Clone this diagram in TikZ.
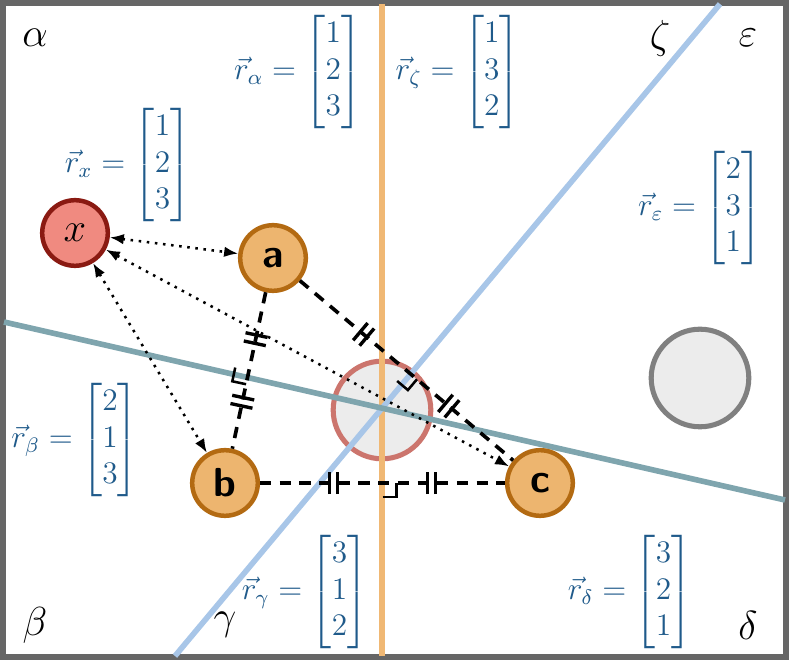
\documentclass[tikz,border=0pt]{standalone}
\usepackage{amsmath}
\usetikzlibrary{arrows.meta,decorations.markings}
\definecolor{vecblue}{HTML}{1F5A8A}
\definecolor{nodeorange}{HTML}{EDB56F}
\definecolor{nodeedge}{HTML}{B36A12}
\definecolor{xred}{HTML}{F08A80}
\definecolor{xedge}{HTML}{8A1A12}
\definecolor{lineorange}{HTML}{F0B874}
\definecolor{lineblue}{HTML}{A8C6E8}
\definecolor{lineteal}{HTML}{7FA5AE}
\tikzset{
  pt/.style={circle,draw=nodeedge,fill=nodeorange,line width=1.6pt,minimum size=0.82cm,inner sep=0pt,font=\Large\sffamily\bfseries},
  vec/.style={text=vecblue,font=\large,scale=0.93},
  corner/.style={font=\Large},
  edge/.style={dashed,line width=1.3pt,dash pattern=on 4pt off 3pt,postaction={decorate},
    decoration={markings,
      mark=at position 0.3 with {\draw[solid,line width=1.2pt] (-1.5pt,-4pt)--(-1.5pt,4pt) (1.5pt,-4pt)--(1.5pt,4pt);},
      mark=at position 0.7 with {\draw[solid,line width=1.2pt] (-1.5pt,-4pt)--(-1.5pt,4pt) (1.5pt,-4pt)--(1.5pt,4pt);},
      mark=at position 0.5 with {\draw[solid,line width=0.9pt] (0,-5pt)--(5pt,-5pt)--(5pt,0);}}},
  dist/.style={dotted,line width=0.9pt,{Latex[length=5pt]}-{Latex[length=5pt]}}
}
\begin{document}
\begin{tikzpicture}[x=0.0125cm,y=-0.0125cm]
 % frame
 \useasboundingbox (0,0) rectangle (789,660);
 \draw[gray!80!black,line width=2pt] (3,3) rectangle (786,657);
 % circles
 \node (cc) at (382,410) [circle,draw=xred!85!black,fill=gray!15,line width=1.8pt,minimum size=1.22cm] {};
 \node (far) at (700,378) [circle,draw=gray,fill=gray!15,line width=1.8pt,minimum size=1.22cm] {};
 % bisectors
 \draw[lineorange,line width=2pt] (382,4) -- (382,656);
 \draw[lineblue,line width=2pt] (175,656) -- (720,4);
 \draw[lineteal,line width=2pt] (4,322) -- (785,500);
 % points
 \node (x) at (75,233) [pt,draw=xedge,fill=xred,font=\Large\itshape\mdseries] {$x$};
 \node (a) at (273,258) [pt] {a};
 \node (b) at (225,483) [pt] {b};
 \node (c) at (540,483) [pt] {c};
 % triangle
 \draw[edge] (a) -- (b);
 \draw[edge] (a) -- (c);
 \draw[edge] (b) -- (c);
 \foreach \p in {a,b,c} {
  \draw[dist] (x) -- (\p);
 };
 % rankings
 \node (ra) at (298,72) [vec] {$\vec{r}_\alpha = \begin{bmatrix}1\\2\\3\end{bmatrix}$};
 \node (rz) at (458,72) [vec] {$\vec{r}_\zeta = \begin{bmatrix}1\\3\\2\end{bmatrix}$};
 \node (rx) at (128,165) [vec] {$\vec{r}_x = \begin{bmatrix}1\\2\\3\end{bmatrix}$};
 \node (re) at (700,208) [vec] {$\vec{r}_\varepsilon = \begin{bmatrix}2\\3\\1\end{bmatrix}$};
 \node (rb) at (75,440) [vec] {$\vec{r}_\beta = \begin{bmatrix}2\\1\\3\end{bmatrix}$};
 \node (rg) at (305,592) [vec] {$\vec{r}_\gamma = \begin{bmatrix}3\\1\\2\end{bmatrix}$};
 \node (rd) at (630,592) [vec] {$\vec{r}_\delta = \begin{bmatrix}3\\2\\1\end{bmatrix}$};
 % regions
 \node (la) at (35,38) [corner] {$\alpha$};
 \node (lz) at (660,38) [corner] {$\zeta$};
 \node (le) at (748,38) [corner] {$\varepsilon$};
 \node (lb) at (35,625) [corner] {$\beta$};
 \node (lg) at (225,625) [corner] {$\gamma$};
 \node (ld) at (748,625) [corner] {$\delta$};
\end{tikzpicture}
\end{document}
